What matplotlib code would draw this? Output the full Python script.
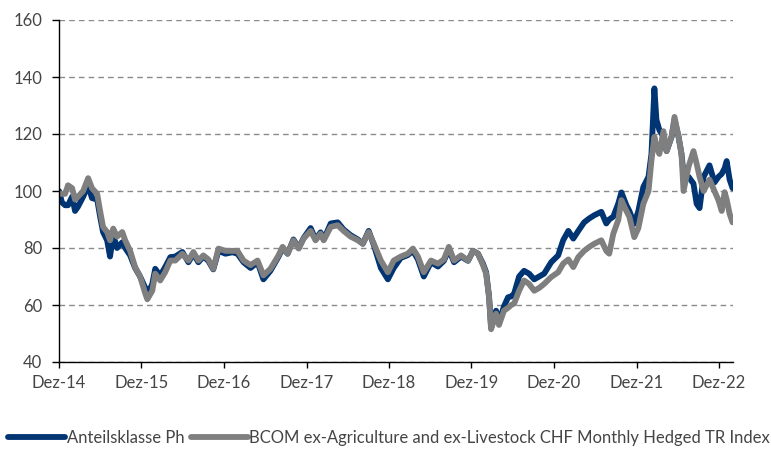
import pandas as pd
import matplotlib.pyplot as plt
import matplotlib.dates as mdates

plt.rcParams['font.family'] = ['Lato', 'DejaVu Sans']

dates = ["2014-12-31", "2015-01-13", "2015-01-27", "2015-02-09", "2015-02-27", "2015-03-12",
         "2015-03-25", "2015-04-17", "2015-05-09", "2015-05-26", "2015-06-18", "2015-07-01",
         "2015-07-14", "2015-08-01", "2015-08-14", "2015-08-28", "2015-09-14", "2015-10-07",
         "2015-10-20", "2015-11-11", "2015-12-03", "2015-12-25", "2016-01-17", "2016-01-26",
         "2016-02-17", "2016-03-01", "2016-03-23", "2016-04-14", "2016-05-07", "2016-05-29",
         "2016-06-29", "2016-07-26", "2016-08-17", "2016-09-08", "2016-09-30", "2016-10-22",
         "2016-11-13", "2016-12-06", "2017-01-06", "2017-02-06", "2017-02-28", "2017-03-27",
         "2017-04-27", "2017-05-28", "2017-06-23", "2017-07-24", "2017-08-29", "2017-09-16",
         "2017-10-08", "2017-11-03", "2017-11-26", "2017-12-18", "2018-01-18", "2018-02-09",
         "2018-03-03", "2018-03-17", "2018-04-17", "2018-05-18", "2018-06-13", "2018-07-14",
         "2018-08-15", "2018-09-06", "2018-10-02", "2018-10-25", "2018-11-25", "2018-12-26",
         "2019-01-21", "2019-02-21", "2019-03-24", "2019-04-16", "2019-05-08", "2019-06-03",
         "2019-07-05", "2019-08-05", "2019-08-31", "2019-09-22", "2019-10-15", "2019-11-15",
         "2019-12-16", "2020-01-07", "2020-01-29", "2020-02-20", "2020-03-05", "2020-03-18",
         "2020-03-27", "2020-04-18", "2020-05-01", "2020-05-23", "2020-06-10", "2020-06-24",
         "2020-07-07", "2020-07-29", "2020-08-20", "2020-09-11", "2020-10-04", "2020-10-26",
         "2020-11-17", "2020-12-18", "2021-01-18", "2021-02-09", "2021-03-04", "2021-03-26",
         "2021-04-17", "2021-05-13", "2021-06-05", "2021-06-27", "2021-07-28", "2021-08-19",
         "2021-09-01", "2021-09-19", "2021-10-11", "2021-10-25", "2021-11-16", "2021-11-29",
         "2021-12-21", "2022-01-08", "2022-01-30", "2022-02-22", "2022-03-07", "2022-03-20",
         "2022-03-29", "2022-04-11", "2022-04-29", "2022-05-13", "2022-06-04", "2022-06-17",
         "2022-07-05", "2022-07-18", "2022-07-27", "2022-08-18", "2022-09-09", "2022-09-23",
         "2022-10-06", "2022-10-24", "2022-11-19", "2022-12-11", "2022-12-29", "2023-01-12",
         "2023-01-25", "2023-02-03", "2023-02-16", "2023-03-01"]

anteil = [100, 96, 95, 95, 98, 93, 94.5, 98, 102, 97.5, 97, 91,
          85.6, 82.7, 77, 84.5, 80, 82, 80, 77.4, 73, 70, 66, 63.5,
          67.4, 72.7, 70.3, 73.3, 76.8, 77, 78.6, 75, 78, 75, 77, 75.5,
          72.5, 79, 78, 78.5, 78, 75, 73, 75, 69, 72, 77, 80,
          78, 83, 80, 83.5, 87, 83, 85.5, 83, 88.6, 89, 86.5, 84.5,
          83, 81.5, 86, 81, 73, 69, 73, 76.5, 77.5, 79, 76, 70,
          75, 73.5, 75.5, 79.5, 75, 77, 75.5, 79, 78, 74.5, 71.5, 63,
          52, 58, 54, 59.5, 62.7, 63, 64, 70, 72, 71, 69, 70,
          71, 75, 77.4, 82.7, 86, 83.3, 86, 89, 90.4, 91.5, 92.7, 88.6,
          90, 91, 95.6, 99.5, 95, 93, 88.5, 93, 101.4, 105, 113, 136,
          125, 121.4, 119, 114, 119, 125, 119, 113, 106, 105, 102.6, 95.5,
          94, 105, 109, 103, 105, 106, 108, 110.5, 104, 101]

bcom = [99, 99, 99, 102, 101, 97, 98, 100, 104.5, 101, 99, 93,
        87.4, 85.6, 82.7, 86.8, 84, 85.6, 82.7, 79, 73.3, 70, 64, 62,
        65, 71, 68.6, 71.5, 75.6, 75.6, 78, 75.6, 78.6, 75.6, 77.4, 76,
        72.7, 79.8, 79, 79, 79, 75.6, 74, 75.6, 70.4, 72.7, 77.4, 80.4,
        78, 82.7, 79.8, 83.3, 86, 82.7, 85, 82.7, 87.4, 88, 86, 84,
        82.7, 81.5, 85.6, 81.5, 75.6, 71.5, 75.6, 77, 78, 79.8, 77, 71.5,
        75.6, 74.5, 76, 80.4, 75.6, 77.4, 75.6, 79, 78, 74, 71, 62.7,
        51.5, 57, 53, 58, 59, 60, 60.5, 65, 68.6, 67.4, 65, 66,
        67.4, 69.8, 71.5, 74.5, 76, 73.3, 76.8, 79, 80.4, 81.5, 82.7, 79,
        78, 85, 89.8, 96.8, 93, 91, 83.8, 87, 95.5, 100, 110.8, 119,
        115.5, 113, 121, 114, 119, 126, 119, 113, 100, 108.5, 114, 109.6,
        105, 100, 104, 100, 96.7, 93, 99.6, 97, 92, 89]

series_names = ["Anteilsklasse Ph",
                "BCOM ex-Agriculture and ex-Livestock CHF Monthly Hedged TR Index"]
tick_dates = ["2014-12-31", "2015-12-31", "2016-12-31", "2017-12-31", "2018-12-31",
              "2019-12-31", "2020-12-31", "2021-12-31", "2022-12-31"]
tick_labels = ["Dez-14", "Dez-15", "Dez-16", "Dez-17", "Dez-18",
               "Dez-19", "Dez-20", "Dez-21", "Dez-22"]

x = pd.to_datetime(dates)

fig = plt.figure(figsize=(7.71, 4.5), dpi=100)
ax = fig.add_axes([59 / 771, 1 - 362 / 450, (733 - 59) / 771, (362 - 20) / 450])

ax.plot(x, anteil, color='#003473', lw=4.2, label=series_names[0], solid_capstyle='round')
ax.plot(x, bcom, color='#7f7f7f', lw=4.2, label=series_names[1], solid_capstyle='round')

ax.set_ylim(40, 160)
ax.set_yticks(range(40, 161, 20))
ax.set_xlim(pd.Timestamp("2014-12-31"), pd.Timestamp("2023-03-03"))
ax.set_xticks(pd.to_datetime(tick_dates))
ax.set_xticklabels(tick_labels)

ax.grid(axis='y', color='#8a8a8a', linestyle=(0, (4, 3)), lw=1)
ax.set_axisbelow(True)
for s in ['top', 'right']:
    ax.spines[s].set_visible(False)
for s in ['left', 'bottom']:
    ax.spines[s].set_color('black')
    ax.spines[s].set_linewidth(1)
ax.tick_params(axis='y', length=5, width=1, pad=7, labelsize=12, labelcolor='#454545')
ax.tick_params(axis='x', length=4, width=1, pad=5, labelsize=12, labelcolor='#454545')

fig.legend(loc='lower left', bbox_to_anchor=(0.0, -0.01), ncol=2, frameon=False,
           fontsize=12, handlelength=3.4, handletextpad=0.1, columnspacing=0.4,
           borderaxespad=0.1, labelcolor='#454545')

fig.savefig('out.png', dpi=100)
